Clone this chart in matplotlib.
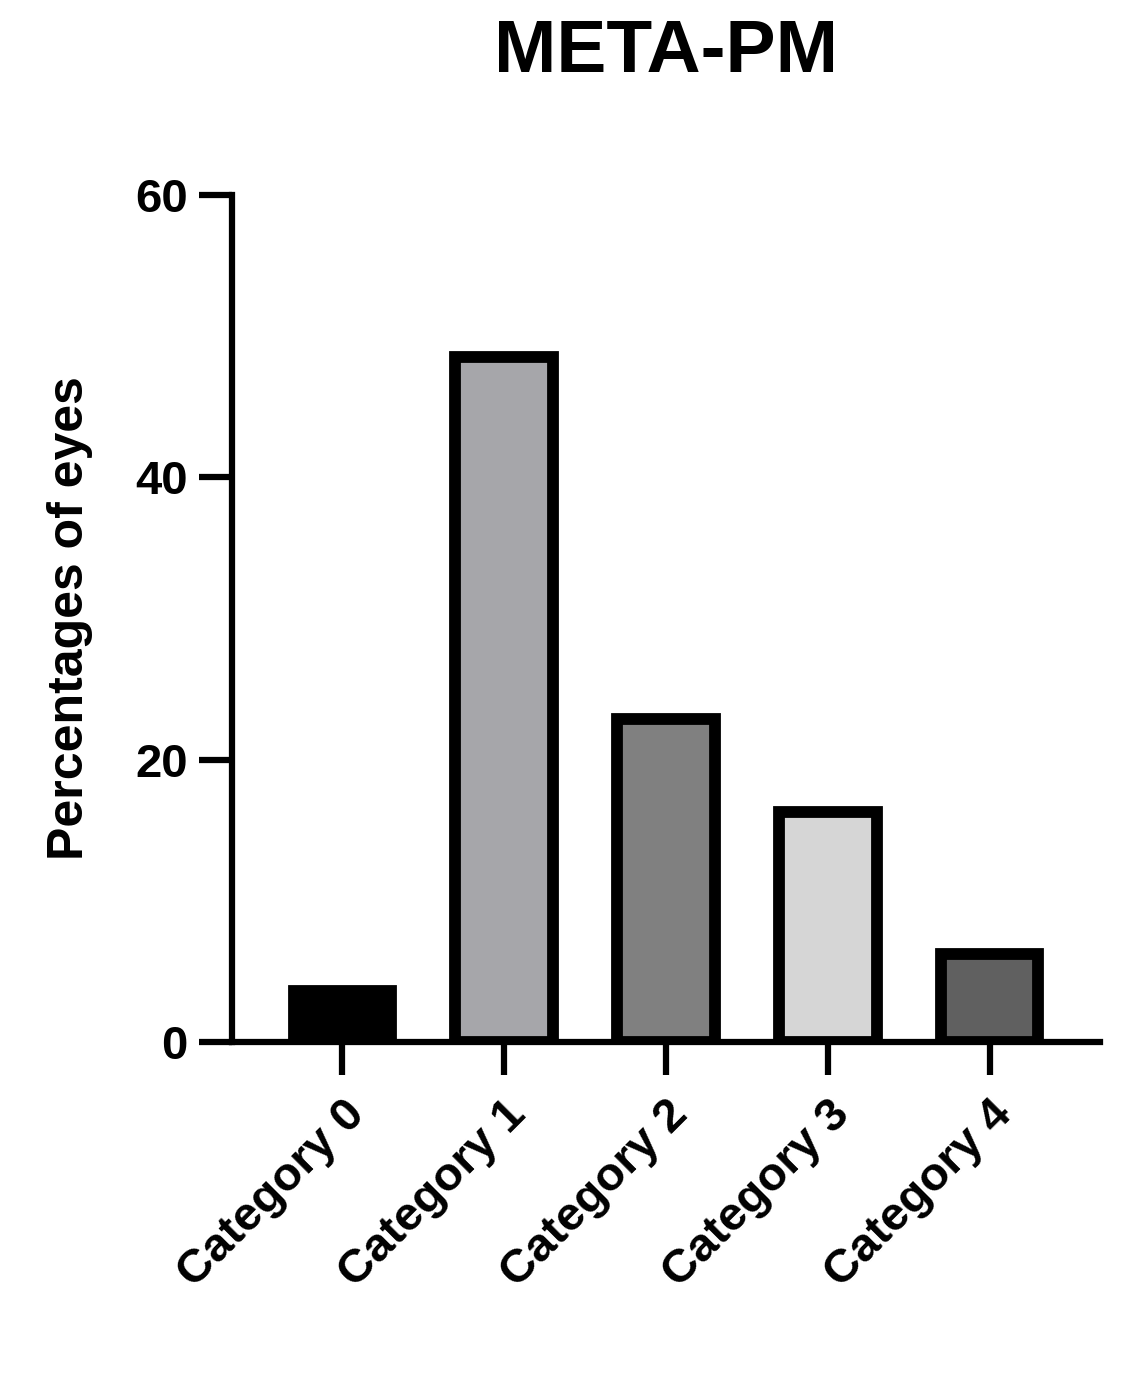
import matplotlib
matplotlib.use("Agg")
import numpy as np
from matplotlib import pyplot as plt

plt.rcParams['font.family'] = ['Liberation Sans', 'DejaVu Sans']
plt.rcParams['font.weight'] = 'bold'

categories = ["Category 0", "Category 1", "Category 2", "Category 3", "Category 4"]
values = [3.6, 48.5, 22.9, 16.3, 6.2]
colors = ["#000000", "#A6A6AA", "#808080", "#D6D6D6", "#606060"]

fig = plt.figure(figsize=(11.45, 13.82), dpi=100)
ax = fig.add_axes([232 / 1145, 1 - 1042 / 1382, 868 / 1145, 847 / 1382])

x = np.arange(len(categories))
ax.bar(x, values, width=0.6, color=colors, edgecolor="black", linewidth=8.5)

ax.set_xlim(-0.68, 4.68)
ax.set_ylim(0, 60)
ax.set_yticks([0, 20, 40, 60])
ax.set_xticks(x)
ax.set_xticklabels(categories, rotation=45, ha="right", rotation_mode="anchor")

for s in ["top", "right"]:
    ax.spines[s].set_visible(False)
for s in ["left", "bottom"]:
    ax.spines[s].set_linewidth(4.5)
ax.tick_params(axis="both", width=4.5, length=24, labelsize=34, pad=8)
ax.tick_params(axis="x", pad=12)

ax.set_ylabel("Percentages of eyes", fontsize=36, fontweight="bold", labelpad=30)
fig.text(666 / 1145, 1 - 52 / 1382, "META-PM", fontsize=54, fontweight="bold",
         ha="center", va="center")

fig.savefig("out.png", dpi=100)
